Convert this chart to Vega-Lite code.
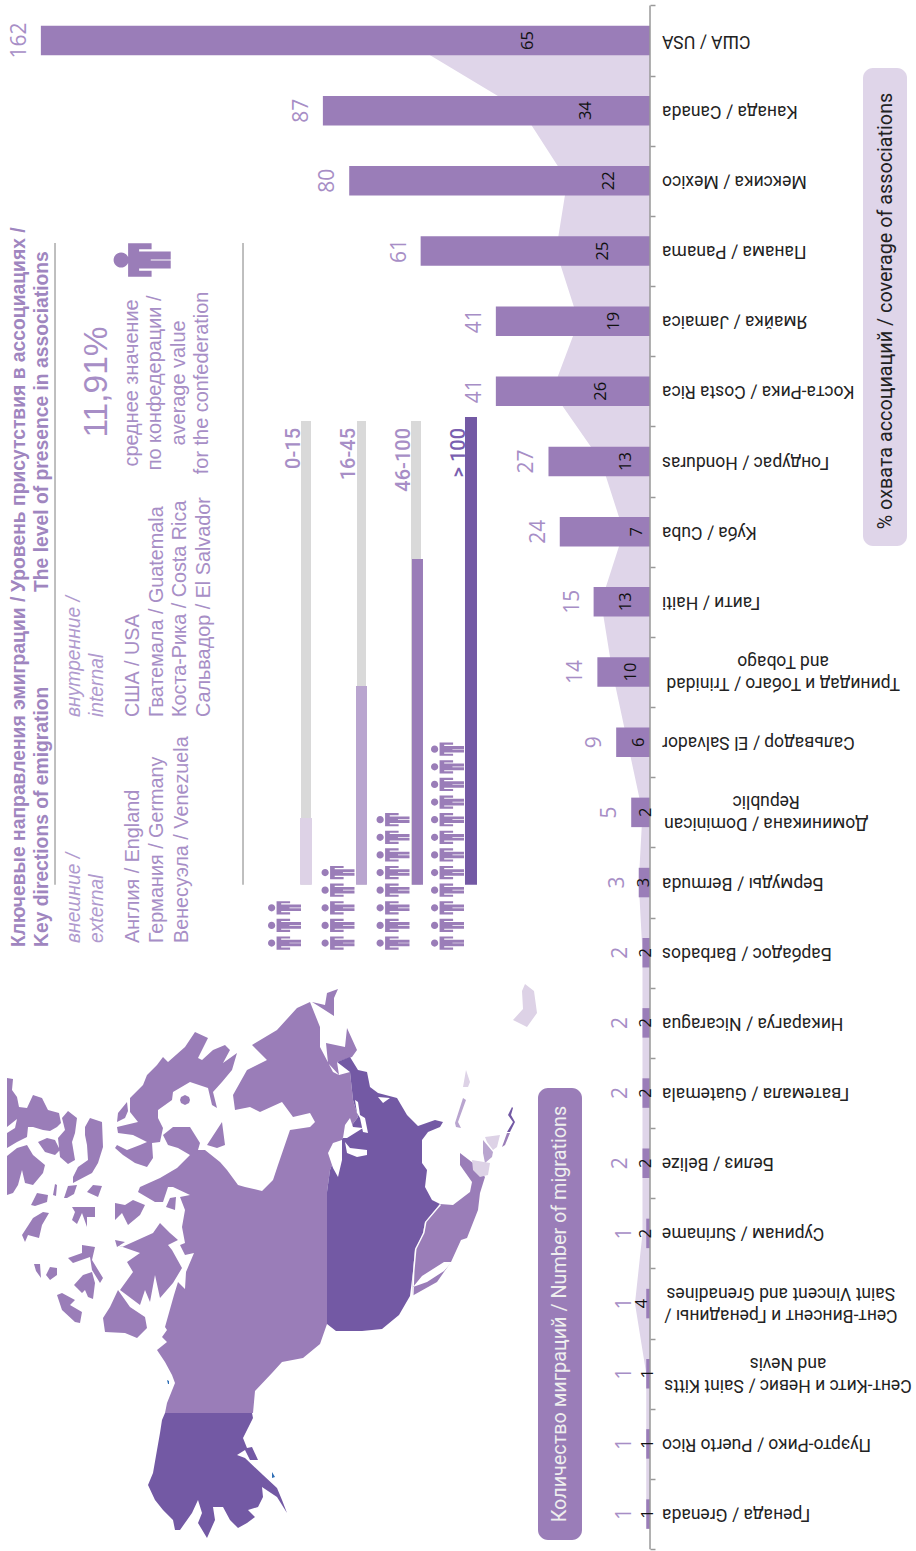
{"$schema":"https://vega.github.io/schema/vega-lite/v6.json","width":916,"height":1551,"padding":0,"autosize":{"type":"none"},"background":"white","config":{"view":{"stroke":null}},
"datasets":{"countries":[
{"rank":0,"label":"США / USA","migrations":162,"coverage":65},
{"rank":1,"label":"Канада / Canada","migrations":87,"coverage":34},
{"rank":2,"label":"Мексика / Mexico","migrations":80,"coverage":22},
{"rank":3,"label":"Панама / Panama","migrations":61,"coverage":25},
{"rank":4,"label":"Ямайка / Jamaica","migrations":41,"coverage":19},
{"rank":5,"label":"Коста-Рика / Costa Rica","migrations":41,"coverage":26},
{"rank":6,"label":"Гондурас / Honduras","migrations":27,"coverage":13},
{"rank":7,"label":"Куба / Cuba","migrations":24,"coverage":7},
{"rank":8,"label":"Гаити / Haiti","migrations":15,"coverage":13},
{"rank":9,"label":"Тринидад и Тобаго / Trinidad|and Tobago","migrations":14,"coverage":10,"lines":2},
{"rank":10,"label":"Сальвадор / El Salvador","migrations":9,"coverage":6},
{"rank":11,"label":"Доминикана / Dominican|Republic","migrations":5,"coverage":2,"lines":2},
{"rank":12,"label":"Бермуды / Bermuda","migrations":3,"coverage":3},
{"rank":13,"label":"Барбадос / Barbados","migrations":2,"coverage":2},
{"rank":14,"label":"Никарагуа / Nicaragua","migrations":2,"coverage":2},
{"rank":15,"label":"Гватемала / Guatemala","migrations":2,"coverage":2},
{"rank":16,"label":"Белиз / Belize","migrations":2,"coverage":2},
{"rank":17,"label":"Суринам / Suriname","migrations":1,"coverage":2},
{"rank":18,"label":"Сент-Винсент и Гренадины /|Saint Vincent and Grenadines","migrations":1,"coverage":4,"lines":2},
{"rank":19,"label":"Сент-Китс и Невис / Saint Kitts|and Nevis","migrations":1,"coverage":1,"lines":2},
{"rank":20,"label":"Пуэрто-Рико / Puerto Rico","migrations":1,"coverage":1},
{"rank":21,"label":"Гренада / Grenada","migrations":1,"coverage":1}
]},
"layer":[
{"data":{"values":[
{"type":"Feature","properties":{"group":"mid","name":"Canada"},"geometry":{"type":"MultiPolygon","coordinates":[
[[[165,1413],[167,1403],[175,1383],[172,1375],[165,1362],[157,1350],[167,1342],[162,1337],[167,1330],[165,1327],[174,1295],[178,1282],[185,1289],[186,1272],[194,1253],[185,1255],[180,1245],[185,1243],[182,1227],[185,1210],[180,1197],[190,1195],[173,1187],[168,1187],[163,1202],[155,1202],[138,1192],[140,1187],[160,1178],[177,1168],[190,1155],[178,1148],[168,1145],[163,1135],[173,1127],[190,1127],[200,1143],[198,1150],[205,1150],[220,1162],[227,1170],[238,1185],[245,1187],[262,1191],[273,1180],[278,1165],[290,1130],[310,1127],[315,1122],[310,1113],[293,1117],[282,1102],[260,1112],[250,1107],[235,1110],[233,1095],[247,1070],[267,1060],[252,1045],[277,1030],[297,1008],[310,1002],[320,1027],[320,1047],[333,1072],[339,1075],[350,1072],[353,1100],[358,1117],[343,1137],[330,1170],[327,1192],[327,1324],[320,1344],[303,1358],[282,1362],[272,1373],[255,1391],[253,1413],[165,1413]]],
[[[326,1043],[345,1047],[347,1028],[357,1050],[352,1057],[337,1062],[339,1075],[328,1063],[326,1043]]],
[[[312,1002],[325,1005],[327,993],[338,989],[334,998],[334,1016],[320,1007],[312,1002]]],
[[[130,1098],[143,1085],[147,1075],[157,1065],[163,1057],[168,1062],[185,1047],[195,1032],[208,1038],[198,1058],[202,1060],[213,1050],[225,1045],[230,1050],[223,1063],[237,1053],[232,1070],[222,1082],[213,1092],[217,1108],[212,1105],[208,1088],[190,1082],[173,1092],[172,1100],[158,1110],[158,1118],[163,1128],[160,1142],[152,1143],[153,1158],[147,1167],[135,1163],[123,1155],[115,1148],[117,1145],[127,1150],[140,1145],[147,1142],[133,1135],[118,1133],[117,1127],[138,1122],[130,1112],[130,1098]]],
[[[117,1122],[118,1113],[127,1102],[128,1111],[125,1118],[117,1122]]],
[[[207,1145],[222,1122],[225,1145],[217,1148],[207,1145]]],
[[[166,1207],[170,1198],[176,1197],[175,1210],[166,1207]]],
[[[7,1078],[13,1079],[12,1090],[17,1097],[19,1107],[27,1108],[33,1095],[42,1098],[48,1110],[59,1113],[61,1123],[57,1127],[50,1131],[43,1130],[33,1127],[28,1127],[27,1137],[17,1142],[7,1148],[7,1078]]],
[[[38,1142],[47,1138],[55,1140],[60,1150],[55,1155],[45,1152],[38,1142]]],
[[[7,1156],[17,1148],[27,1145],[33,1155],[45,1165],[43,1173],[33,1185],[25,1183],[22,1170],[18,1185],[13,1193],[7,1195],[7,1156]]],
[[[62,1118],[68,1111],[77,1118],[75,1133],[72,1142],[75,1160],[68,1164],[60,1157],[58,1138],[65,1130],[62,1118]]],
[[[85,1127],[90,1118],[102,1122],[103,1147],[98,1163],[92,1173],[73,1183],[73,1177],[78,1167],[88,1160],[87,1145],[85,1135],[85,1127]]],
[[[31,1205],[37,1193],[48,1195],[47,1202],[35,1206],[31,1205]]],
[[[53,1195],[55,1184],[57,1185],[56,1196],[53,1195]]],
[[[64,1198],[68,1186],[77,1185],[74,1194],[67,1198],[64,1198]]],
[[[87,1192],[93,1185],[102,1186],[98,1197],[87,1192]]],
[[[22,1235],[33,1218],[43,1212],[49,1213],[42,1225],[39,1238],[28,1235],[25,1242],[22,1235]]],
[[[72,1207],[95,1207],[95,1217],[87,1217],[87,1227],[82,1213],[77,1224],[72,1220],[75,1212],[72,1207]]],
[[[115,1203],[125,1205],[133,1200],[145,1205],[140,1215],[128,1225],[122,1213],[115,1220],[115,1203]]],
[[[82,1245],[95,1247],[92,1260],[103,1278],[100,1283],[92,1270],[90,1257],[73,1263],[68,1258],[82,1253],[82,1245]]],
[[[74,1285],[83,1275],[92,1272],[95,1283],[93,1299],[88,1297],[85,1290],[82,1293],[77,1288],[74,1285]]],
[[[57,1295],[62,1293],[75,1300],[70,1305],[82,1312],[80,1323],[75,1322],[62,1310],[57,1295]]],
[[[50,1267],[57,1268],[57,1275],[50,1280],[46,1275],[50,1267]]],
[[[34,1264],[40,1264],[41,1278],[36,1271],[34,1264]]],
[[[122,1247],[153,1233],[160,1223],[170,1233],[178,1240],[168,1245],[172,1250],[182,1268],[173,1283],[160,1298],[155,1275],[150,1302],[145,1290],[140,1305],[120,1290],[133,1272],[127,1262],[140,1253],[117,1245],[122,1247]]],
[[[115,1240],[125,1242],[117,1247],[115,1240]]],
[[[118,1290],[130,1307],[145,1317],[147,1328],[137,1338],[125,1333],[105,1332],[103,1318],[110,1307],[118,1290]]],
[[[181,1097],[185,1095],[189,1097],[190,1100],[189,1103],[185,1105],[181,1103],[180,1100],[181,1097]]]
]}},
{"type":"Feature","properties":{"group":"mid","name":"Mexico"},"geometry":{"type":"Polygon","coordinates":[[[440,1204],[453,1205],[470,1192],[472,1182],[460,1165],[460,1153],[473,1163],[485,1177],[480,1193],[478,1210],[467,1238],[461,1240],[451,1262],[437,1282],[412,1296],[413,1275],[415,1249],[420,1240],[423,1233],[425,1222],[440,1204]]]}},
{"type":"Feature","properties":{"group":"mid","name":"Costa Rica"},"geometry":{"type":"Polygon","coordinates":[[[502,1147],[507,1133],[510,1133],[505,1145],[502,1147]]]}},
{"type":"Feature","properties":{"group":"dark","name":"USA"},"geometry":{"type":"MultiPolygon","coordinates":[
[[[337,1062],[350,1057],[358,1070],[367,1072],[370,1087],[378,1093],[397,1098],[407,1115],[418,1126],[435,1120],[443,1122],[440,1127],[428,1132],[422,1140],[422,1163],[427,1170],[425,1187],[432,1200],[440,1204],[425,1222],[423,1233],[420,1240],[415,1249],[413,1271],[410,1296],[399,1315],[382,1329],[362,1331],[336,1331],[327,1324],[327,1192],[330,1170],[343,1137],[358,1117],[353,1100],[350,1072],[337,1062]]],
[[[165,1413],[252,1413],[253,1418],[248,1428],[243,1438],[247,1448],[252,1447],[258,1460],[250,1460],[245,1450],[237,1455],[245,1458],[263,1475],[277,1488],[282,1500],[287,1513],[277,1497],[262,1487],[263,1497],[258,1507],[248,1510],[255,1517],[247,1523],[238,1528],[230,1520],[223,1507],[213,1507],[215,1520],[207,1538],[198,1523],[202,1513],[198,1500],[192,1513],[180,1530],[175,1530],[173,1520],[163,1510],[155,1500],[148,1485],[153,1473],[157,1450],[160,1433],[162,1420],[165,1413]]]
]}},
{"type":"Feature","properties":{"group":"dark","name":"Panama"},"geometry":{"type":"Polygon","coordinates":[[[507,1132],[513,1122],[508,1115],[512,1107],[513,1108],[511,1115],[515,1122],[510,1132],[507,1132]]]}},
{"type":"Feature","properties":{"group":"soft","name":"Honduras"},"geometry":{"type":"MultiPolygon","coordinates":[
[[[483,1140],[493,1152],[492,1157],[485,1163],[483,1153],[483,1140]]],
[[[455,1123],[463,1098],[466,1100],[458,1122],[461,1128],[456,1127],[455,1123]]]
]}},
{"type":"Feature","properties":{"group":"light","name":"Central America and Caribbean"},"geometry":{"type":"MultiPolygon","coordinates":[
[[[472,1160],[490,1163],[488,1175],[480,1177],[473,1170],[472,1160]]],
[[[485,1137],[500,1135],[497,1147],[493,1150],[487,1142],[485,1137]]],
[[[463,1087],[466,1070],[470,1082],[468,1087],[463,1087]]],
[[[525,984],[534,991],[537,1013],[527,1027],[513,1020],[523,1009],[522,991],[525,984]]]
]}},
{"type":"Feature","properties":{"group":"water","name":"Water"},"geometry":{"type":"MultiPolygon","coordinates":[
[[[328,1153],[333,1143],[342,1140],[342,1160],[338,1177],[333,1168],[328,1153]]],
[[[345,1142],[350,1148],[367,1150],[367,1155],[357,1157],[347,1153],[345,1142]]],
[[[343,1138],[345,1125],[350,1118],[353,1127],[363,1128],[355,1133],[347,1138],[343,1138]]],
[[[355,1100],[358,1102],[360,1115],[365,1118],[368,1133],[363,1132],[360,1118],[357,1113],[355,1100]]],
[[[378,1097],[390,1098],[383,1103],[378,1097]]],
[[[413,1287],[422,1276],[444,1262],[452,1262],[444,1271],[427,1282],[413,1287]]],
[[[440,1204],[425,1222],[423,1233],[415,1249],[413,1271],[412,1296],[413.5,1296],[414.5,1271],[416.5,1249],[424.5,1233],[426.5,1222],[441,1205],[440,1204]]],
[[[7,1127],[17,1119],[15,1128],[7,1133],[7,1127]]]
]}},
{"type":"Feature","properties":{"group":"blue","name":"Lakes"},"geometry":{"type":"MultiPolygon","coordinates":[
[[[272,1472],[275,1477],[272,1478],[272,1472]]],
[[[167,1380],[169,1381],[169,1384],[168,1384],[167,1380]]]
]}}
]},
"projection":{"type":"identity","scale":1,"translate":[0,0]},
"mark":{"type":"geoshape","strokeWidth":0},
"encoding":{"color":{"field":"properties.group","type":"nominal","legend":null,"scale":{"domain":["mid","dark","soft","light","water","blue"],"range":["#9a7db8","#7359a4","#b9a5cf","#ddd2e6","#ffffff","#2f6fb5"]}}}},

{"data":{"name":"countries"},"mark":{"type":"area","orient":"horizontal","color":"#dfd5e9"},
"encoding":{"y":{"field":"rank","type":"quantitative","scale":{"domain":[21.526,-0.5772],"nice":false,"zero":false,"padding":0},
"axis":{"orient":"right","offset":-266,"values":[-0.5,0.5,1.5,2.5,3.5,4.5,5.5,6.5,7.5,8.5,9.5,10.5,11.5,12.5,13.5,14.5,15.5,16.5,17.5,18.5,19.5,20.5,21.5],"domain":false,"labels":false,"grid":false,"title":null,"ticks":true,"tickSize":5,"tickColor":"#999999","tickWidth":1.5}},
"x":{"field":"coverage","type":"quantitative","stack":null,"scale":{"domain":[172.87,-70.74],"nice":false,"zero":false,"padding":0},"axis":null},"x2":{"datum":0}}},

{"data":{"name":"countries"},"mark":{"type":"bar","orient":"horizontal","size":29.5,"color":"#9a7db8"},
"encoding":{"y":{"field":"rank","type":"quantitative"},"x":{"field":"migrations","type":"quantitative","stack":null},"x2":{"datum":0}}},

{"data":{"values":[{}]},"mark":{"type":"rule","color":"#999999","strokeWidth":1.5},"encoding":{"x":{"datum":0},"y":{"datum":-0.5},"y2":{"datum":21.5}}},

{"data":{"name":"countries"},"mark":{"type":"text","angle":270,"baseline":"middle","align":"center","dy":-21,"font":"Open Sans","fontSize":21,"color":"#a78ec6"},
"encoding":{"y":{"field":"rank","type":"quantitative"},"x":{"field":"migrations","type":"quantitative","stack":null},"text":{"field":"migrations","type":"quantitative"}}},

{"data":{"name":"countries"},"transform":[{"calculate":"datum.coverage/2","as":"mid"}],"mark":{"type":"text","angle":270,"baseline":"middle","align":"center","font":"Open Sans","fontSize":16.5,"color":"#111111"},
"encoding":{"y":{"field":"rank","type":"quantitative"},"x":{"field":"mid","type":"quantitative","stack":null},"text":{"field":"coverage","type":"quantitative"}}},

{"data":{"name":"countries"},"transform":[{"filter":"datum.lines !== 2"}],"mark":{"type":"text","angle":180,"baseline":"middle","align":"right","font":"Roboto","fontSize":17.5,"color":"#222222"},
"encoding":{"y":{"field":"rank","type":"quantitative"},"x":{"datum":-3.19},"text":{"field":"label"}}},
{"data":{"name":"countries"},"transform":[{"filter":"datum.rank === 9"}],"mark":{"type":"text","angle":180,"baseline":"middle","align":"center","dy":-11,"lineBreak":"|","lineHeight":22,"font":"Roboto","fontSize":17.5,"color":"#222222"},
"encoding":{"y":{"field":"rank","type":"quantitative"},"x":{"datum":-35.4},"text":{"field":"label"}}},
{"data":{"name":"countries"},"transform":[{"filter":"datum.rank === 11"}],"mark":{"type":"text","angle":180,"baseline":"middle","align":"center","dy":-11,"lineBreak":"|","lineHeight":22,"font":"Roboto","fontSize":17.5,"color":"#222222"},
"encoding":{"y":{"field":"rank","type":"quantitative"},"x":{"datum":-30.9},"text":{"field":"label"}}},
{"data":{"name":"countries"},"transform":[{"filter":"datum.rank === 18"}],"mark":{"type":"text","angle":180,"baseline":"middle","align":"center","dy":-11,"lineBreak":"|","lineHeight":22,"font":"Roboto","fontSize":17.5,"color":"#222222"},
"encoding":{"y":{"field":"rank","type":"quantitative"},"x":{"datum":-34.8},"text":{"field":"label"}}},
{"data":{"name":"countries"},"transform":[{"filter":"datum.rank === 19"}],"mark":{"type":"text","angle":180,"baseline":"middle","align":"center","dy":-11,"lineBreak":"|","lineHeight":22,"font":"Roboto","fontSize":17.5,"color":"#222222"},
"encoding":{"y":{"field":"rank","type":"quantitative"},"x":{"datum":-36.7},"text":{"field":"label"}}},

{"data":{"values":[{}]},"mark":{"type":"rect","color":"#dfd5e9","cornerRadius":10},"encoding":{"x":{"datum":-56.65},"x2":{"datum":-68.35},"y":{"datum":0.392},"y2":{"datum":7.204}}},
{"data":{"values":[{"t":"% охвата ассоциаций / coverage of associations"}]},"mark":{"type":"text","angle":270,"align":"center","baseline":"middle","font":"Roboto","fontSize":19.8,"color":"#222222"},"encoding":{"x":{"datum":-62.77},"y":{"datum":3.855},"text":{"field":"t"}}},
{"data":{"values":[{}]},"mark":{"type":"rect","color":"#9a7db8","cornerRadius":10},"encoding":{"x":{"datum":29.79},"x2":{"datum":18.09},"y":{"datum":14.928},"y2":{"datum":21.369}}},
{"data":{"values":[{"t":"Количество миграций / Number of migrations"}]},"mark":{"type":"text","angle":270,"align":"center","baseline":"middle","font":"Roboto","fontSize":19.8,"color":"#eeeeee"},"encoding":{"x":{"datum":23.94},"y":{"datum":18.15},"text":{"field":"t"}}},

{"data":{"values":[{"t":"Ключевые направления эмиграции /|Key directions of emigration"}]},"mark":{"type":"text","angle":270,"align":"left","baseline":"middle","lineBreak":"|","lineHeight":23,"font":"Liberation Sans","fontWeight":"bold","fontSize":19.3,"color":"#9f86bf"},"encoding":{"x":{"datum":167.82},"y":{"datum":12.918},"text":{"field":"t"}}},
{"data":{"values":[{"t":"Уровень присутствия в ассоциациях /|The level of presence in associations"}]},"mark":{"type":"text","angle":270,"align":"left","baseline":"middle","lineBreak":"|","lineHeight":23,"font":"Liberation Sans","fontWeight":"bold","fontSize":19.3,"color":"#9f86bf"},"encoding":{"x":{"datum":167.82},"y":{"datum":7.859},"text":{"field":"t"}}},
{"data":{"values":[{"t":"внешние /|external"}]},"mark":{"type":"text","angle":270,"align":"left","baseline":"middle","lineBreak":"|","lineHeight":23,"font":"Liberation Sans","fontStyle":"italic","fontSize":19.3,"color":"#b09ace"},"encoding":{"x":{"datum":153.19},"y":{"datum":12.862},"text":{"field":"t"}}},
{"data":{"values":[{"t":"внутренние /|internal"}]},"mark":{"type":"text","angle":270,"align":"left","baseline":"middle","lineBreak":"|","lineHeight":23,"font":"Liberation Sans","fontStyle":"italic","fontSize":19.3,"color":"#b09ace"},"encoding":{"x":{"datum":153.19},"y":{"datum":9.641},"text":{"field":"t"}}},
{"data":{"values":[{"t":"Англия / England|Германия / Germany|Венесуэла / Venezuela"}]},"mark":{"type":"text","angle":270,"align":"left","baseline":"middle","lineBreak":"|","lineHeight":24.5,"font":"Liberation Sans","fontSize":19.8,"color":"#a78ec6"},"encoding":{"x":{"datum":137.5},"y":{"datum":12.862},"text":{"field":"t"}}},
{"data":{"values":[{"t":"США / USA|Гватемала / Guatemala|Коста-Рика / Costa Rica|Сальвадор / El Salvador"}]},"mark":{"type":"text","angle":270,"align":"left","baseline":"middle","lineBreak":"|","lineHeight":23.7,"font":"Liberation Sans","fontSize":19.8,"color":"#a78ec6"},"encoding":{"x":{"datum":137.5},"y":{"datum":9.641},"text":{"field":"t"}}},
{"data":{"values":[{"t":"11,91%"}]},"mark":{"type":"text","angle":270,"align":"center","baseline":"middle","font":"Liberation Sans","fontSize":33.5,"color":"#a78ec6"},"encoding":{"x":{"datum":147.07},"y":{"datum":4.867},"text":{"field":"t"}}},
{"data":{"values":[{"t":"среднее значение|по конфедерации /|average value|for the confederation"}]},"mark":{"type":"text","angle":270,"align":"center","baseline":"middle","lineBreak":"|","lineHeight":23.3,"font":"Liberation Sans","fontSize":19.9,"color":"#a78ec6"},"encoding":{"x":{"datum":137.77},"y":{"datum":4.88},"text":{"field":"t"}}},

{"data":{"values":[{}]},"mark":{"type":"rule","color":"#aaaaaa","strokeWidth":1.5},"encoding":{"x":{"datum":158.24},"y":{"datum":2.886},"y2":{"datum":12.032}}},
{"data":{"values":[{}]},"mark":{"type":"rule","color":"#aaaaaa","strokeWidth":1.5},"encoding":{"x":{"datum":108.24},"y":{"datum":2.886},"y2":{"datum":12.032}}},

{"data":{"values":[{}]},"mark":{"type":"rule","color":"#d9d9d9","strokeWidth":10},"encoding":{"x":{"datum":91.49},"y":{"datum":5.422},"y2":{"datum":12.032}}},
{"data":{"values":[{}]},"mark":{"type":"rule","color":"#ddd2e6","strokeWidth":12},"encoding":{"x":{"datum":91.49},"y":{"datum":11.081},"y2":{"datum":12.032}}},
{"data":{"values":[{}]},"mark":{"type":"rule","color":"#d9d9d9","strokeWidth":9},"encoding":{"x":{"datum":76.73},"y":{"datum":5.422},"y2":{"datum":12.032}}},
{"data":{"values":[{}]},"mark":{"type":"rule","color":"#b9a5cf","strokeWidth":11},"encoding":{"x":{"datum":76.73},"y":{"datum":9.199},"y2":{"datum":12.032}}},
{"data":{"values":[{}]},"mark":{"type":"rule","color":"#d9d9d9","strokeWidth":10},"encoding":{"x":{"datum":62.23},"y":{"datum":5.422},"y2":{"datum":12.032}}},
{"data":{"values":[{}]},"mark":{"type":"rule","color":"#9a7db8","strokeWidth":11},"encoding":{"x":{"datum":61.84},"y":{"datum":7.388},"y2":{"datum":12.032}}},
{"data":{"values":[{}]},"mark":{"type":"rule","color":"#7359a4","strokeWidth":12},"encoding":{"x":{"datum":47.61},"y":{"datum":5.365},"y2":{"datum":12.032}}},

{"data":{"values":[{"t":"0-15"}]},"mark":{"type":"text","angle":270,"align":"right","baseline":"middle","font":"Roboto","fontWeight":500,"fontSize":20,"color":"#a78ec6"},"encoding":{"x":{"datum":94.68},"y":{"datum":5.522},"text":{"field":"t"}}},
{"data":{"values":[{"t":"16-45"}]},"mark":{"type":"text","angle":270,"align":"right","baseline":"middle","font":"Roboto","fontWeight":500,"fontSize":20,"color":"#a78ec6"},"encoding":{"x":{"datum":80.05},"y":{"datum":5.522},"text":{"field":"t"}}},
{"data":{"values":[{"t":"46-100"}]},"mark":{"type":"text","angle":270,"align":"right","baseline":"middle","font":"Roboto","fontWeight":500,"fontSize":20,"color":"#a78ec6"},"encoding":{"x":{"datum":65.43},"y":{"datum":5.522},"text":{"field":"t"}}},
{"data":{"values":[{"t":"> 100"}]},"mark":{"type":"text","angle":270,"align":"right","baseline":"middle","font":"Roboto","fontWeight":500,"fontSize":20,"color":"#7a5fb0"},"encoding":{"x":{"datum":50.8},"y":{"datum":5.522},"text":{"field":"t"}}},

{"data":{"values":[{"icon":"average"}]},"mark":{"type":"point","filled":true,"opacity":1,"color":"#9a7db8","size":3364,"shape":"M-.98 0A.26 .26 0 1 1-.46 0A.26 .26 0 1 1-.98 0ZM-.48 -.58H.33V-.37H-.1V-.29H.99V-.02H.3V.02H.99V.29H-.1V.37H.33V.58H-.48Z"},"encoding":{"x":{"datum":135.1},"y":{"datum":3.128}}},

{"data":{"values":[{"n":1},{"n":2},{"n":3}]},"transform":[{"calculate":"12.862-0.2511*(datum.n-1)","as":"pos"}],"mark":{"type":"point","filled":true,"opacity":1,"color":"#9a7db8","size":1089,"shape":"M-1 0A.22 .22 0 1 1-.56 0A.22 .22 0 1 1-1 0ZM-.48 -.4H.34V-.27H-.2V-.2H1V-.02H.3V.02H1V.2H-.2V.27H.34V.4H-.48Z"},"encoding":{"x":{"datum":97.21},"y":{"field":"pos","type":"quantitative"}}},
{"data":{"values":[{"n":1},{"n":2},{"n":3},{"n":4},{"n":5}]},"transform":[{"calculate":"12.862-0.2511*(datum.n-1)","as":"pos"}],"mark":{"type":"point","filled":true,"opacity":1,"color":"#9a7db8","size":1089,"shape":"M-1 0A.22 .22 0 1 1-.56 0A.22 .22 0 1 1-1 0ZM-.48 -.4H.34V-.27H-.2V-.2H1V-.02H.3V.02H1V.2H-.2V.27H.34V.4H-.48Z"},"encoding":{"x":{"datum":82.98},"y":{"field":"pos","type":"quantitative"}}},
{"data":{"values":[{"n":1},{"n":2},{"n":3},{"n":4},{"n":5},{"n":6},{"n":7},{"n":8}]},"transform":[{"calculate":"12.862-0.2511*(datum.n-1)","as":"pos"}],"mark":{"type":"point","filled":true,"opacity":1,"color":"#9a7db8","size":1089,"shape":"M-1 0A.22 .22 0 1 1-.56 0A.22 .22 0 1 1-1 0ZM-.48 -.4H.34V-.27H-.2V-.2H1V-.02H.3V.02H1V.2H-.2V.27H.34V.4H-.48Z"},"encoding":{"x":{"datum":68.35},"y":{"field":"pos","type":"quantitative"}}},
{"data":{"values":[{"n":1},{"n":2},{"n":3},{"n":4},{"n":5},{"n":6},{"n":7},{"n":8},{"n":9},{"n":10},{"n":11},{"n":12}]},"transform":[{"calculate":"12.862-0.2511*(datum.n-1)","as":"pos"}],"mark":{"type":"point","filled":true,"opacity":1,"color":"#9a7db8","size":1089,"shape":"M-1 0A.22 .22 0 1 1-.56 0A.22 .22 0 1 1-1 0ZM-.48 -.4H.34V-.27H-.2V-.2H1V-.02H.3V.02H1V.2H-.2V.27H.34V.4H-.48Z"},"encoding":{"x":{"datum":53.86},"y":{"field":"pos","type":"quantitative"}}}
]}
